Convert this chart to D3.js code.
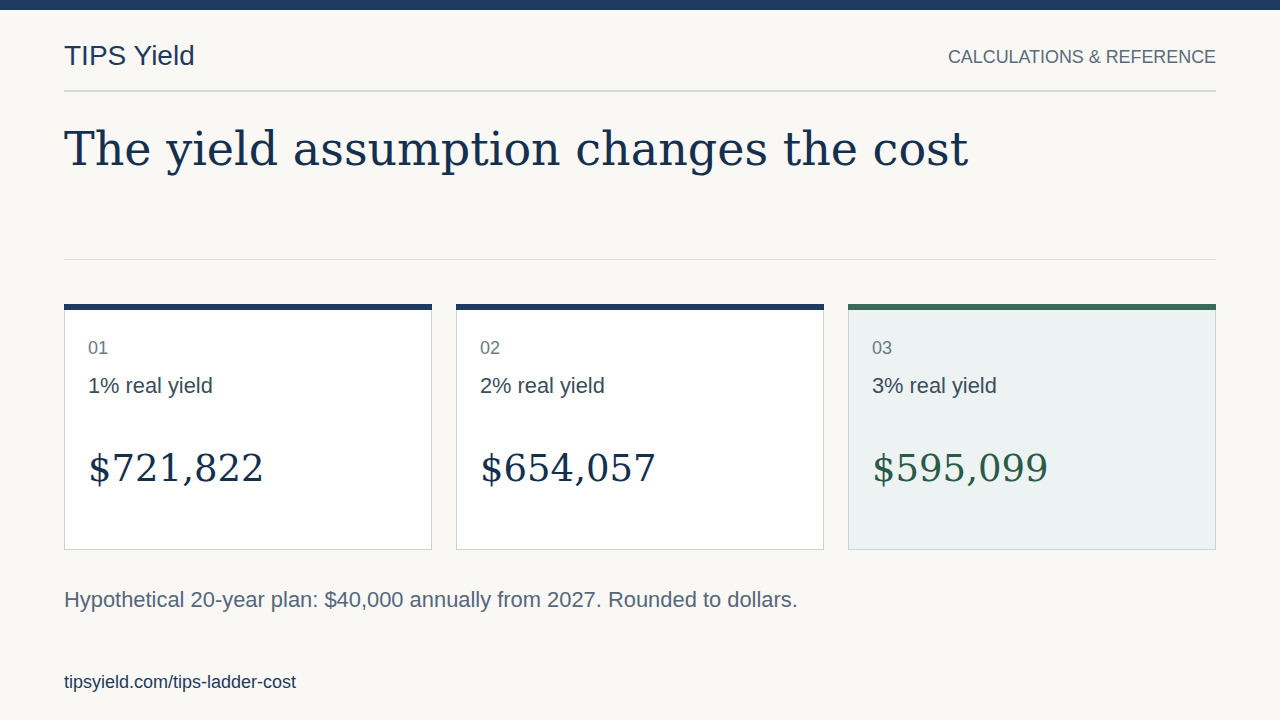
<!DOCTYPE html>
<html>
<head>
<meta charset="utf-8">
<script src="https://cdn.jsdelivr.net/npm/d3@7/dist/d3.min.js"></script>
<style>
  html, body { margin: 0; padding: 0; background: #f9f8f5; }
  svg { display: block; }
</style>
</head>
<body>
<svg id="chart" width="1280" height="720"></svg>
<script>
// ---- data ----
const brand = "TIPS Yield";
const section = "CALCULATIONS & REFERENCE";
const title = "The yield assumption changes the cost";
const cardIndex = ["01", "02", "03"];
const cardLabels = ["1% real yield", "2% real yield", "3% real yield"];
const cardValues = [721822, 654057, 595099];
const highlight = [false, false, true];
const note = "Hypothetical 20-year plan: $40,000 annually from 2027. Rounded to dollars.";
const source = "tipsyield.com/tips-ladder-cost";

// ---- drawing ----
const W = 1280, H = 720;
const sans = "'Liberation Sans', Arial, Helvetica, sans-serif";
const serif = "'DejaVu Serif', Georgia, serif";
const navy = "#1f3a5f", ink = "#15304f";
const svg = d3.select("#chart");

svg.append("rect").attr("width", W).attr("height", H).attr("fill", "#f9f8f5");
svg.append("rect").attr("width", W).attr("height", 10).attr("fill", navy);

svg.append("text").attr("x", 64).attr("y", 65)
  .attr("font-family", sans).attr("font-size", 28).attr("fill", navy).text(brand);
svg.append("text").attr("x", 1216).attr("y", 63).attr("text-anchor", "end")
  .attr("font-family", sans).attr("font-size", 17.9).attr("fill", "#5b6b7b").text(section);

svg.append("rect").attr("x", 64).attr("y", 90).attr("width", 1152).attr("height", 2).attr("fill", "#d3d7db");

svg.append("text").attr("x", 64).attr("y", 165)
  .attr("font-family", serif).attr("font-size", 46).attr("fill", ink).text(title);

svg.append("rect").attr("x", 64).attr("y", 259).attr("width", 1152).attr("height", 1).attr("fill", "#e0e2e2");

const x = d3.scaleBand().domain(cardIndex).range([64, 1216]).paddingInner(24 / 392).paddingOuter(0);
const bw = x.bandwidth();
const fmt = d3.format("$,.0f");
const cardTop = 304, cardH = 246;

const cards = svg.selectAll("g.card").data(cardIndex.map((d, i) => ({
  idx: d, label: cardLabels[i], value: cardValues[i], hl: highlight[i]
}))).join("g").attr("class", "card")
  .attr("transform", d => `translate(${x(d.idx)},${cardTop})`);

cards.append("rect").attr("x", 0.5).attr("y", 0.5).attr("width", bw - 1).attr("height", cardH - 1)
  .attr("fill", d => d.hl ? "#edf3f2" : "#ffffff").attr("stroke", "#cbd2d9").attr("stroke-width", 1);
cards.append("rect").attr("x", 0).attr("y", 0).attr("width", bw).attr("height", 6)
  .attr("fill", d => d.hl ? "#3a6a58" : navy);
cards.append("text").attr("x", 24).attr("y", 50)
  .attr("font-family", sans).attr("font-size", 18).attr("fill", "#6b7a88").text(d => d.idx);
cards.append("text").attr("x", 24).attr("y", 89)
  .attr("font-family", sans).attr("font-size", 21.8).attr("fill", "#3b4d5e").text(d => d.label);
cards.append("text").attr("x", 24).attr("y", 177)
  .attr("font-family", serif).attr("font-size", 37).attr("fill", d => d.hl ? "#2a5a48" : ink)
  .text(d => fmt(d.value));

svg.append("text").attr("x", 64).attr("y", 607)
  .attr("font-family", sans).attr("font-size", 21.9).attr("fill", "#56677a").text(note);
svg.append("text").attr("x", 64).attr("y", 688)
  .attr("font-family", sans).attr("font-size", 18).attr("fill", navy).text(source);
</script>
</body>
</html>
